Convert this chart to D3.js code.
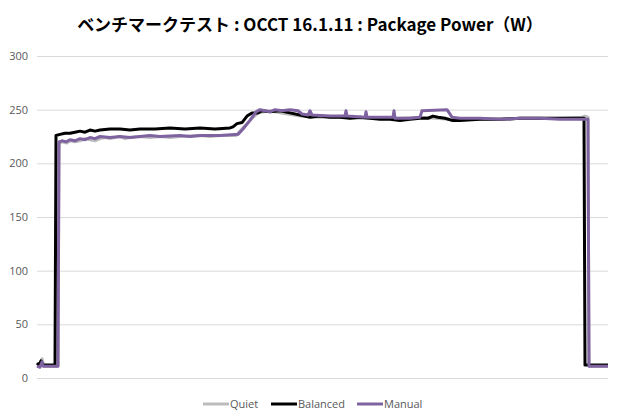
<!DOCTYPE html>
<html>
<head>
<meta charset="utf-8">
<script src="https://cdn.jsdelivr.net/npm/d3@7"></script>
<style>
  body { margin: 0; background: #fff; }
  .axis text { font-family: "Open Sans", "Noto Sans", sans-serif; font-size: 11px; fill: #595959; }
  .legend text { font-family: "Open Sans", "Noto Sans", sans-serif; font-size: 11px; fill: #595959; }
</style>
</head>
<body>
<div id="chart"></div>
<script>
(function() {
  // samples (seconds) and watt readings
  var quiet = [
    [0, 12], [3, 11], [5, 18], [7, 11], [21, 11], [22, 218], [25, 220], [30, 219], [33, 221],
    [38, 220], [43, 221], [48, 223], [53, 222], [58, 221], [63, 223], [68, 224], [73, 223],
    [83, 225], [88, 223], [93, 224], [103, 225], [113, 224], [123, 225], [133, 224], [143, 225],
    [163, 226], [173, 225], [183, 226], [199, 226], [203, 230], [213, 240], [221, 247], [233, 249],
    [243, 247], [263, 244], [283, 243], [303, 243], [323, 242], [343, 242], [363, 242],
    [383, 243], [413, 241], [443, 241], [463, 241], [483, 242], [523, 242], [545, 243],
    [548, 244], [551, 243], [552, 11], [571, 11]
  ];
  var balanced = [
    [0, 14], [2, 12], [4, 16], [6, 12], [18, 12], [19, 226], [23, 227], [28, 228], [33, 228],
    [38, 229], [43, 230], [48, 229], [53, 231], [58, 230], [63, 231], [73, 232], [83, 232],
    [93, 231], [103, 232], [118, 232], [133, 233], [148, 232], [163, 233], [178, 232],
    [193, 233], [196, 234], [200, 237], [205, 238], [210, 244], [215, 247], [221, 247],
    [225, 249], [233, 248], [243, 249], [253, 247], [263, 245], [273, 243], [283, 244],
    [293, 243], [303, 243], [313, 242], [323, 243], [333, 242], [343, 241], [353, 241],
    [363, 240], [373, 241], [383, 242], [391, 242], [396, 244], [401, 243], [408, 242],
    [415, 240], [423, 240], [443, 241], [463, 241], [483, 242], [503, 242], [523, 242],
    [547, 242], [548, 12], [571, 12]
  ];
  var manual = [
    [0, 11], [3, 10], [5, 15], [6, 11], [21, 11], [22, 220], [25, 221], [29, 220], [33, 222],
    [38, 221], [43, 223], [48, 222], [53, 224], [58, 223], [63, 225], [73, 224], [83, 225],
    [93, 224], [103, 225], [113, 226], [123, 225], [143, 226], [153, 225], [163, 226], [183, 226],
    [201, 227], [206, 232], [213, 240], [219, 248], [223, 250], [233, 248], [238, 250],
    [245, 249], [253, 250], [261, 249], [265, 246], [271, 245], [273, 249], [275, 245],
    [293, 244], [308, 244], [309, 249], [310, 244], [328, 243], [329, 248], [330, 243],
    [343, 243], [356, 243], [357, 249], [358, 242], [373, 242], [383, 243], [385, 249],
    [410, 250], [415, 243], [423, 242], [443, 242], [463, 241], [483, 242], [503, 242],
    [523, 241], [551, 241], [552, 11], [571, 11]
  ];

  var series = [
    { name: "Quiet", values: quiet, color: "#bcbcbc" },
    { name: "Balanced", values: balanced, color: "#000000" },
    { name: "Manual", values: manual, color: "#7e63a0" }
  ];
  var yTicks = [0, 50, 100, 150, 200, 250, 300];

  var width = 620, height = 420;
  var margin = { top: 56, left: 37, right: 12, bottom: 42 };

  var svg = d3.select("#chart")
    .append("svg")
    .attr("width", width)
    .attr("height", height);

  svg.append("text")
    .attr("x", width / 2)
    .attr("y", 31)
    .attr("text-anchor", "middle")
    .style("font-family", "'Noto Sans CJK JP', sans-serif")
    .style("font-weight", "bold")
    .style("font-size", "17px")
    .attr("fill", "#000")
    .text("ベンチマークテスト : OCCT 16.1.11 : Package Power（W）");

  var xScale = d3.scaleLinear()
    .domain([0, 571])
    .range([margin.left, width - margin.right]);

  var yScale = d3.scaleLinear()
    .domain([0, 300])
    .range([height - margin.bottom, margin.top]);

  // gridlines
  svg.append("g")
    .selectAll("line")
    .data(yTicks)
    .enter()
    .append("line")
    .attr("x1", xScale(0))
    .attr("x2", xScale(571))
    .attr("y1", function(d) { return yScale(d) + 0.5; })
    .attr("y2", function(d) { return yScale(d) + 0.5; })
    .attr("stroke", "#d9d9d9")
    .attr("stroke-width", 1);

  var yAxis = d3.axisLeft(yScale).tickValues(yTicks).tickSize(0).tickPadding(9);
  svg.append("g")
    .attr("class", "axis y-axis")
    .attr("transform", "translate(" + margin.left + ",0)")
    .call(yAxis)
    .call(function(g) { g.select(".domain").remove(); });

  var line = d3.line()
    .x(function(d) { return xScale(d[0]); })
    .y(function(d) { return yScale(d[1]); });

  svg.append("g")
    .selectAll("path")
    .data(series)
    .enter()
    .append("path")
    .attr("d", function(d) { return line(d.values); })
    .attr("fill", "none")
    .attr("stroke", function(d) { return d.color; })
    .attr("stroke-width", 3)
    .attr("stroke-linejoin", "round");

  // legend
  var legend = svg.append("g").attr("class", "legend");
  var legendX = [203, 271, 357];
  series.forEach(function(s, i) {
    legend.append("line")
      .attr("x1", legendX[i])
      .attr("x2", legendX[i] + 26)
      .attr("y1", 404)
      .attr("y2", 404)
      .attr("stroke", s.color)
      .attr("stroke-width", 3);
    legend.append("text")
      .attr("x", legendX[i] + 27)
      .attr("y", 408)
      .text(s.name);
  });
})();
</script>
</body>
</html>
